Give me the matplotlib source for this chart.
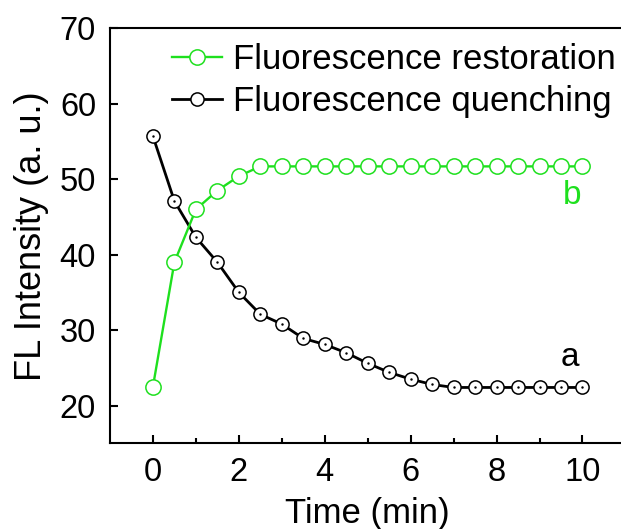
import matplotlib.pyplot as plt

# --- datos ---
tiempo = [0, 0.5, 1, 1.5, 2, 2.5, 3, 3.5, 4, 4.5, 5,
          5.5, 6, 6.5, 7, 7.5, 8, 8.5, 9, 9.5, 10]
restauracion = [22.5, 39.0, 46.0, 48.5, 50.4, 51.7, 51.7, 51.7, 51.7, 51.7, 51.7,
                51.7, 51.7, 51.7, 51.7, 51.7, 51.7, 51.7, 51.7, 51.7, 51.7]
extincion = [55.7, 47.1, 42.3, 39.0, 35.0, 32.1, 30.8, 28.9, 28.1, 27.0, 25.6,
             24.4, 23.5, 22.8, 22.4, 22.4, 22.4, 22.4, 22.4, 22.4, 22.4]

verde = "#1EE01E"

plt.rcParams["font.family"] = ["Liberation Sans", "DejaVu Sans"]

fig = plt.figure(figsize=(6.21, 5.29), dpi=100)
ax = fig.add_axes([0.1771, 0.162, 0.83, 0.7845])

# curva a (negra) con punto central
ax.plot(tiempo, extincion, color="black", linewidth=2, marker="o",
        markersize=9.5, markerfacecolor="white", markeredgecolor="black",
        markeredgewidth=1.1, label="Fluorescence quenching", zorder=3)
ax.plot(tiempo, extincion, linestyle="none", marker=".", markersize=1.5,
        color="black", zorder=4)

# curva b (verde)
ax.plot(tiempo, restauracion, color=verde, linewidth=1.7, marker="o",
        markersize=11, markerfacecolor="white", markeredgecolor=verde,
        markeredgewidth=1.1, label="Fluorescence restoration", zorder=5)

ax.text(9.75, 47.8, "b", color=verde, fontsize=24, ha="center", va="center")
ax.text(9.7, 26.4, "a", color="black", fontsize=24, ha="center", va="center")

ax.set_xlim(-1, 11)
ax.set_ylim(15, 70)
ax.set_xticks([0, 2, 4, 6, 8, 10])
ax.set_xticks([1, 3, 5, 7, 9], minor=True)
ax.set_yticks([20, 30, 40, 50, 60, 70])

ax.tick_params(axis="both", which="major", direction="in", labelsize=23.5,
               width=1.5, length=6)
ax.tick_params(axis="x", which="minor", direction="in", width=1.5, length=3.5)
ax.tick_params(axis="x", pad=10)
ax.tick_params(axis="y", pad=10)
for lado in ax.spines.values():
    lado.set_linewidth(1.5)

ax.set_xlabel("Time (min)", fontsize=25, labelpad=6)
ax.set_ylabel("FL Intensity (a. u.)", fontsize=26, labelpad=8)

manejadores, etiquetas = ax.get_legend_handles_labels()
ax.legend(manejadores[::-1], etiquetas[::-1], loc="upper left",
          bbox_to_anchor=(0.12, 0.965), frameon=False, fontsize=25,
          handlelength=1.45, handletextpad=0.3, labelspacing=0.27,
          borderaxespad=0, borderpad=0)

fig.savefig("out.png", dpi=100)
